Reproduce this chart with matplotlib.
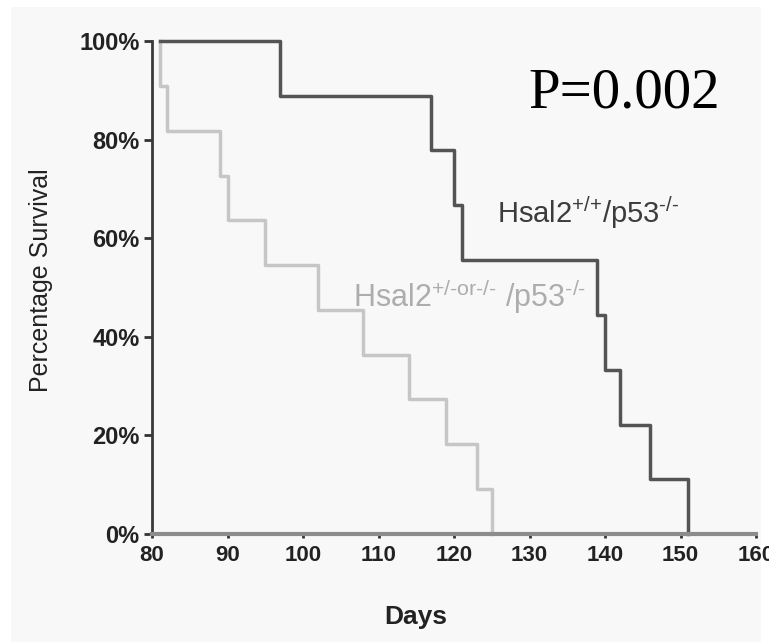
import matplotlib
matplotlib.use("Agg")
import matplotlib.pyplot as plt
from matplotlib.patches import Rectangle

# survival data (days, percent surviving)
wt_days = [81, 97, 117, 120, 121, 139, 140, 142, 146, 151]
wt_surv = [100, 88.9, 77.8, 66.7, 55.6, 44.4, 33.3, 22.2, 11.1, 0]

het_days = [81, 81, 82, 89, 90, 95, 102, 108, 114, 119, 123, 125]
het_surv = [100, 90.9, 81.8, 72.7, 63.6, 54.5, 45.5, 36.4, 27.3, 18.2, 9.1, 0]

x_ticks = [80, 90, 100, 110, 120, 130, 140, 150, 160]
y_ticks = [0, 20, 40, 60, 80, 100]
y_labels = ["0%", "20%", "40%", "60%", "80%", "100%"]

plt.rcParams["font.family"] = ["Liberation Sans", "DejaVu Sans"]
plt.rcParams["mathtext.fontset"] = "custom"
plt.rcParams["mathtext.rm"] = "Liberation Sans"
plt.rcParams["mathtext.it"] = "Liberation Sans:italic"
plt.rcParams["mathtext.bf"] = "Liberation Sans:bold"

W, H = 769, 642
fig = plt.figure(figsize=(W / 100, H / 100), dpi=100, facecolor="white")
fig.patches.append(Rectangle((11 / W, 0), 750 / W, 635 / H, transform=fig.transFigure,
                             facecolor="#f8f8f8", edgecolor="none", zorder=-10))

ax = fig.add_axes([152 / W, (H - 534) / H, 604 / W, 493 / H])
ax.set_facecolor("none")

ax.step(het_days, het_surv, where="post", color="#c6c6c6", lw=2.5, clip_on=False)
ax.step(wt_days, wt_surv, where="post", color="#545454", lw=2.5, clip_on=False)

ax.set_xlim(80, 160)
ax.set_ylim(0, 100)
ax.set_xticks(x_ticks)
ax.set_xticklabels([str(t) for t in x_ticks], fontsize=16, fontweight="bold", color="#222222")
ax.set_yticks(y_ticks)
ax.set_yticklabels(y_labels, fontsize=17, fontweight="bold", color="#222222")

for s in ["top", "right"]:
    ax.spines[s].set_visible(False)
ax.spines["left"].set_color("#3a3a3a")
ax.spines["left"].set_linewidth(2)
ax.spines["bottom"].set_color("#8c8c8c")
ax.spines["bottom"].set_linewidth(3)
ax.tick_params(axis="y", direction="out", length=6, width=2, color="#333333", pad=3)
ax.tick_params(axis="x", direction="out", length=3, width=2, color="#333333", pad=5)

fig.text(41 / W, 1 - 280 / H, "Percentage Survival", rotation=90, ha="center", va="center",
         fontsize=18, color="#222222")
fig.text(416 / W, 1 - 617 / H, "Days", ha="center", va="center", fontsize=19,
         fontweight="bold", color="#222222")

fig.text(528 / W, 1 - 108 / H, "P=0.002", ha="left", va="baseline", fontsize=41,
         family="Liberation Serif", color="black")
fig.text(497 / W, 1 - 223 / H, r"Hsal2$^{\text{+/+}}$/p53$^{\text{-/-}}$", ha="left",
         va="baseline", fontsize=21, color="#3c3c3c")
fig.text(353 / W, 1 - 307 / H, r"Hsal2$^{\text{+/-or-/-}}$ /p53$^{\text{-/-}}$", ha="left",
         va="baseline", fontsize=22, color="#adadad")

fig.savefig("out.png", dpi=100)
